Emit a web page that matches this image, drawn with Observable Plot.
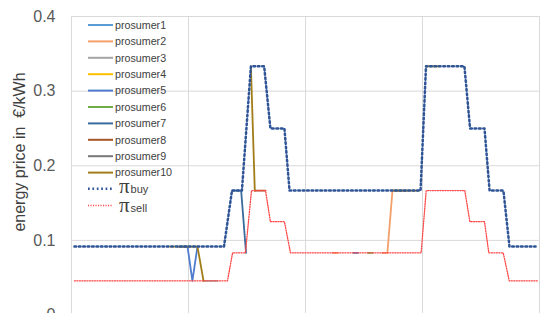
<!DOCTYPE html>
<html><head><meta charset="utf-8">
<script src="https://cdn.jsdelivr.net/npm/d3@7"></script>
<script src="https://cdn.jsdelivr.net/npm/@observablehq/plot@0.6"></script>
<style>
html,body{margin:0;padding:0;overflow:hidden;background:#fff;}
#wrap{position:relative;width:540px;height:313px;overflow:hidden;}
#wrap svg{display:block;}
#legend{position:absolute;left:0;top:0;pointer-events:none;}
</style></head><body><div id="wrap"></div>
<script>
// ---- data (hours of day, price in €/kWh) ----
const names = ["prosumer1","prosumer2","prosumer3","prosumer4","prosumer5","prosumer6","prosumer7","prosumer8","prosumer9","prosumer10"];
const colors = ["#5b9bd5","#f4a06a","#a5a5a5","#ffc000","#4f7ccc","#70ad47","#3a6c9c","#a5552a","#777777","#a07d18"];
const yTicks = [0, 0.1, 0.2, 0.3, 0.4];
const xTicks = [0, 6, 12, 18, 24];
const yLabel = "energy price in \u00a0€/kWh";

const buyT  = [0.15, 7.82, 8.23, 8.74, 9.2, 9.88, 10.2, 10.92, 11.18, 17.9, 18.18, 20.15, 20.44, 21.18, 21.44, 22.15, 22.46, 23.8];
const buyV  = [0.0917, 0.0917, 0.1667, 0.1667, 0.3333, 0.3333, 0.25, 0.25, 0.1667, 0.1667, 0.3333, 0.3333, 0.25, 0.25, 0.1667, 0.1667, 0.0917, 0.0917];
const sellT = [0.15, 8.0, 8.26, 8.92, 9.23, 9.95, 10.2, 10.92, 11.23, 17.93, 18.19, 20.17, 20.43, 21.18, 21.4, 22.14, 22.45, 23.95];
const sellV = [0.0458, 0.0458, 0.0833, 0.0833, 0.1667, 0.1667, 0.125, 0.125, 0.0833, 0.0833, 0.1667, 0.1667, 0.125, 0.125, 0.0833, 0.0833, 0.0458, 0.0458];

const p1T = [5.45, 5.95];            const p1V = [0.0917, 0.0917];
const p2T = [13.4, 13.65, null, 15.95, 16.2, 16.46, 16.75];
const p2V = [0.0833, 0.0833, null, 0.0833, 0.0833, 0.1667, 0.1667];
const p3T = [6.77, 7.49];            const p3V = [0.0458, 0.0458];
const p4T = [5.05, 5.3];             const p4V = [0.0917, 0.0917];
const p5T = [5.7, 5.95, 6.2, 6.46, null, 14.45, 14.7];
const p5V = [0.0917, 0.0917, 0.0458, 0.0917, null, 0.0833, 0.0833];
const p6T = [15.2, 15.45];           const p6V = [0.0833, 0.0833];
const p7T = [8.23, 8.7, 8.95];       const p7V = [0.1667, 0.1667, 0.0833];
const p8T = [9.4, 9.95];             const p8V = [0.1667, 0.1667];
const p9T = [16.6, 17.2];            const p9V = [0.1667, 0.1667];
const p10T = [5.45, 6.46, 6.77, null, 9.2, 9.4, null, 16.46, 17.8, null, 18.18, 18.82];
const p10V = [0.0917, 0.0917, 0.0458, null, 0.3333, 0.1667, null, 0.1667, 0.1667, null, 0.3333, 0.3333];

const prosT = [p1T,p2T,p3T,p4T,p5T,p6T,p7T,p8T,p9T,p10T];
const prosV = [p1V,p2V,p3V,p4V,p5V,p6V,p7V,p8V,p9V,p10V];

// ---- tables ----
const rows = [];
names.forEach((n, k) => prosT[k].forEach((t, i) => rows.push({t, v: prosV[k][i], s: n})));
const buyRows = buyT.map((t, i) => ({t, v: buyV[i]}));
const sellRows = sellT.map((t, i) => ({t, v: sellV[i]}));

const BUY = {stroke: "#2f5597", strokeWidth: 2.5, strokeDasharray: "1.7 2.7"};
const SELL = {stroke: "#ff4545", strokeWidth: 1.3, strokeDasharray: "1.1 1.4"};

const chart = Plot.plot({
  width: 540, height: 345,
  marginLeft: 71, marginRight: 1, marginTop: 16, marginBottom: 30.5,
  style: {fontFamily: "'Liberation Sans', Arial, sans-serif", background: "transparent"},
  x: {domain: [0, 24], axis: null},
  y: {domain: [0, 0.4], axis: null},
  color: {domain: names, range: colors},
  marks: [
    Plot.gridY(yTicks, {stroke: "#d9d9d9", strokeOpacity: 1}),
    Plot.gridX(xTicks, {stroke: "#d9d9d9", strokeOpacity: 1}),
    Plot.axisY(yTicks, {tickSize: 0, tickPadding: 16, fontSize: 16, fill: "#595959",
      tickFormat: d => d === 0 ? "0" : d.toFixed(1), label: null}),
    Plot.line(rows, {x: "t", y: "v", z: "s", stroke: "s", strokeWidth: 1.8}),
    Plot.line(sellRows, {x: "t", y: "v", ...SELL}),
    Plot.line(buyRows, {x: "t", y: "v", ...BUY})
  ]
});
const wrap = document.getElementById("wrap");
wrap.appendChild(chart);

// ---- legend + axis title overlay ----
const NS = "http://www.w3.org/2000/svg";
const lg = document.createElementNS(NS, "svg");
lg.setAttribute("id", "legend"); lg.setAttribute("width", 540); lg.setAttribute("height", 313);
lg.style.fontFamily = "'Liberation Sans', Arial, sans-serif";
function el(tag, attrs, parent) {
  const e = document.createElementNS(NS, tag);
  for (const k in attrs) e.setAttribute(k, attrs[k]);
  (parent || lg).appendChild(e); return e;
}
const yl = el("text", {transform: "translate(25,152) rotate(-90)", "text-anchor": "middle", "font-size": 16, fill: "#404040"});
yl.textContent = yLabel;

names.forEach((n, i) => {
  const y = 25 + 16.4 * i;
  el("line", {x1: 88, x2: 113, y1: y, y2: y, stroke: colors[i], "stroke-width": 2});
  const t = el("text", {x: 115, y: y + 3.8, "font-size": 10.7, fill: "#404040"});
  t.textContent = n;
});
[["buy", 188.8, BUY, 193], ["sell", 205.5, SELL, 212]].forEach(([sub, y, st, base]) => {
  el("line", {x1: 88, x2: 113, y1: y, y2: y, stroke: st.stroke, "stroke-width": st.strokeWidth, "stroke-dasharray": st.strokeDasharray});
  const t = el("text", {x: 119, y: base, fill: "#404040"});
  const a = el("tspan", {"font-size": 21, "font-family": "'Liberation Serif', serif"}, t); a.textContent = "π";
  const b = el("tspan", {"font-size": 11, dx: 1}, t); b.textContent = sub;
});
wrap.appendChild(lg);
</script></body></html>
